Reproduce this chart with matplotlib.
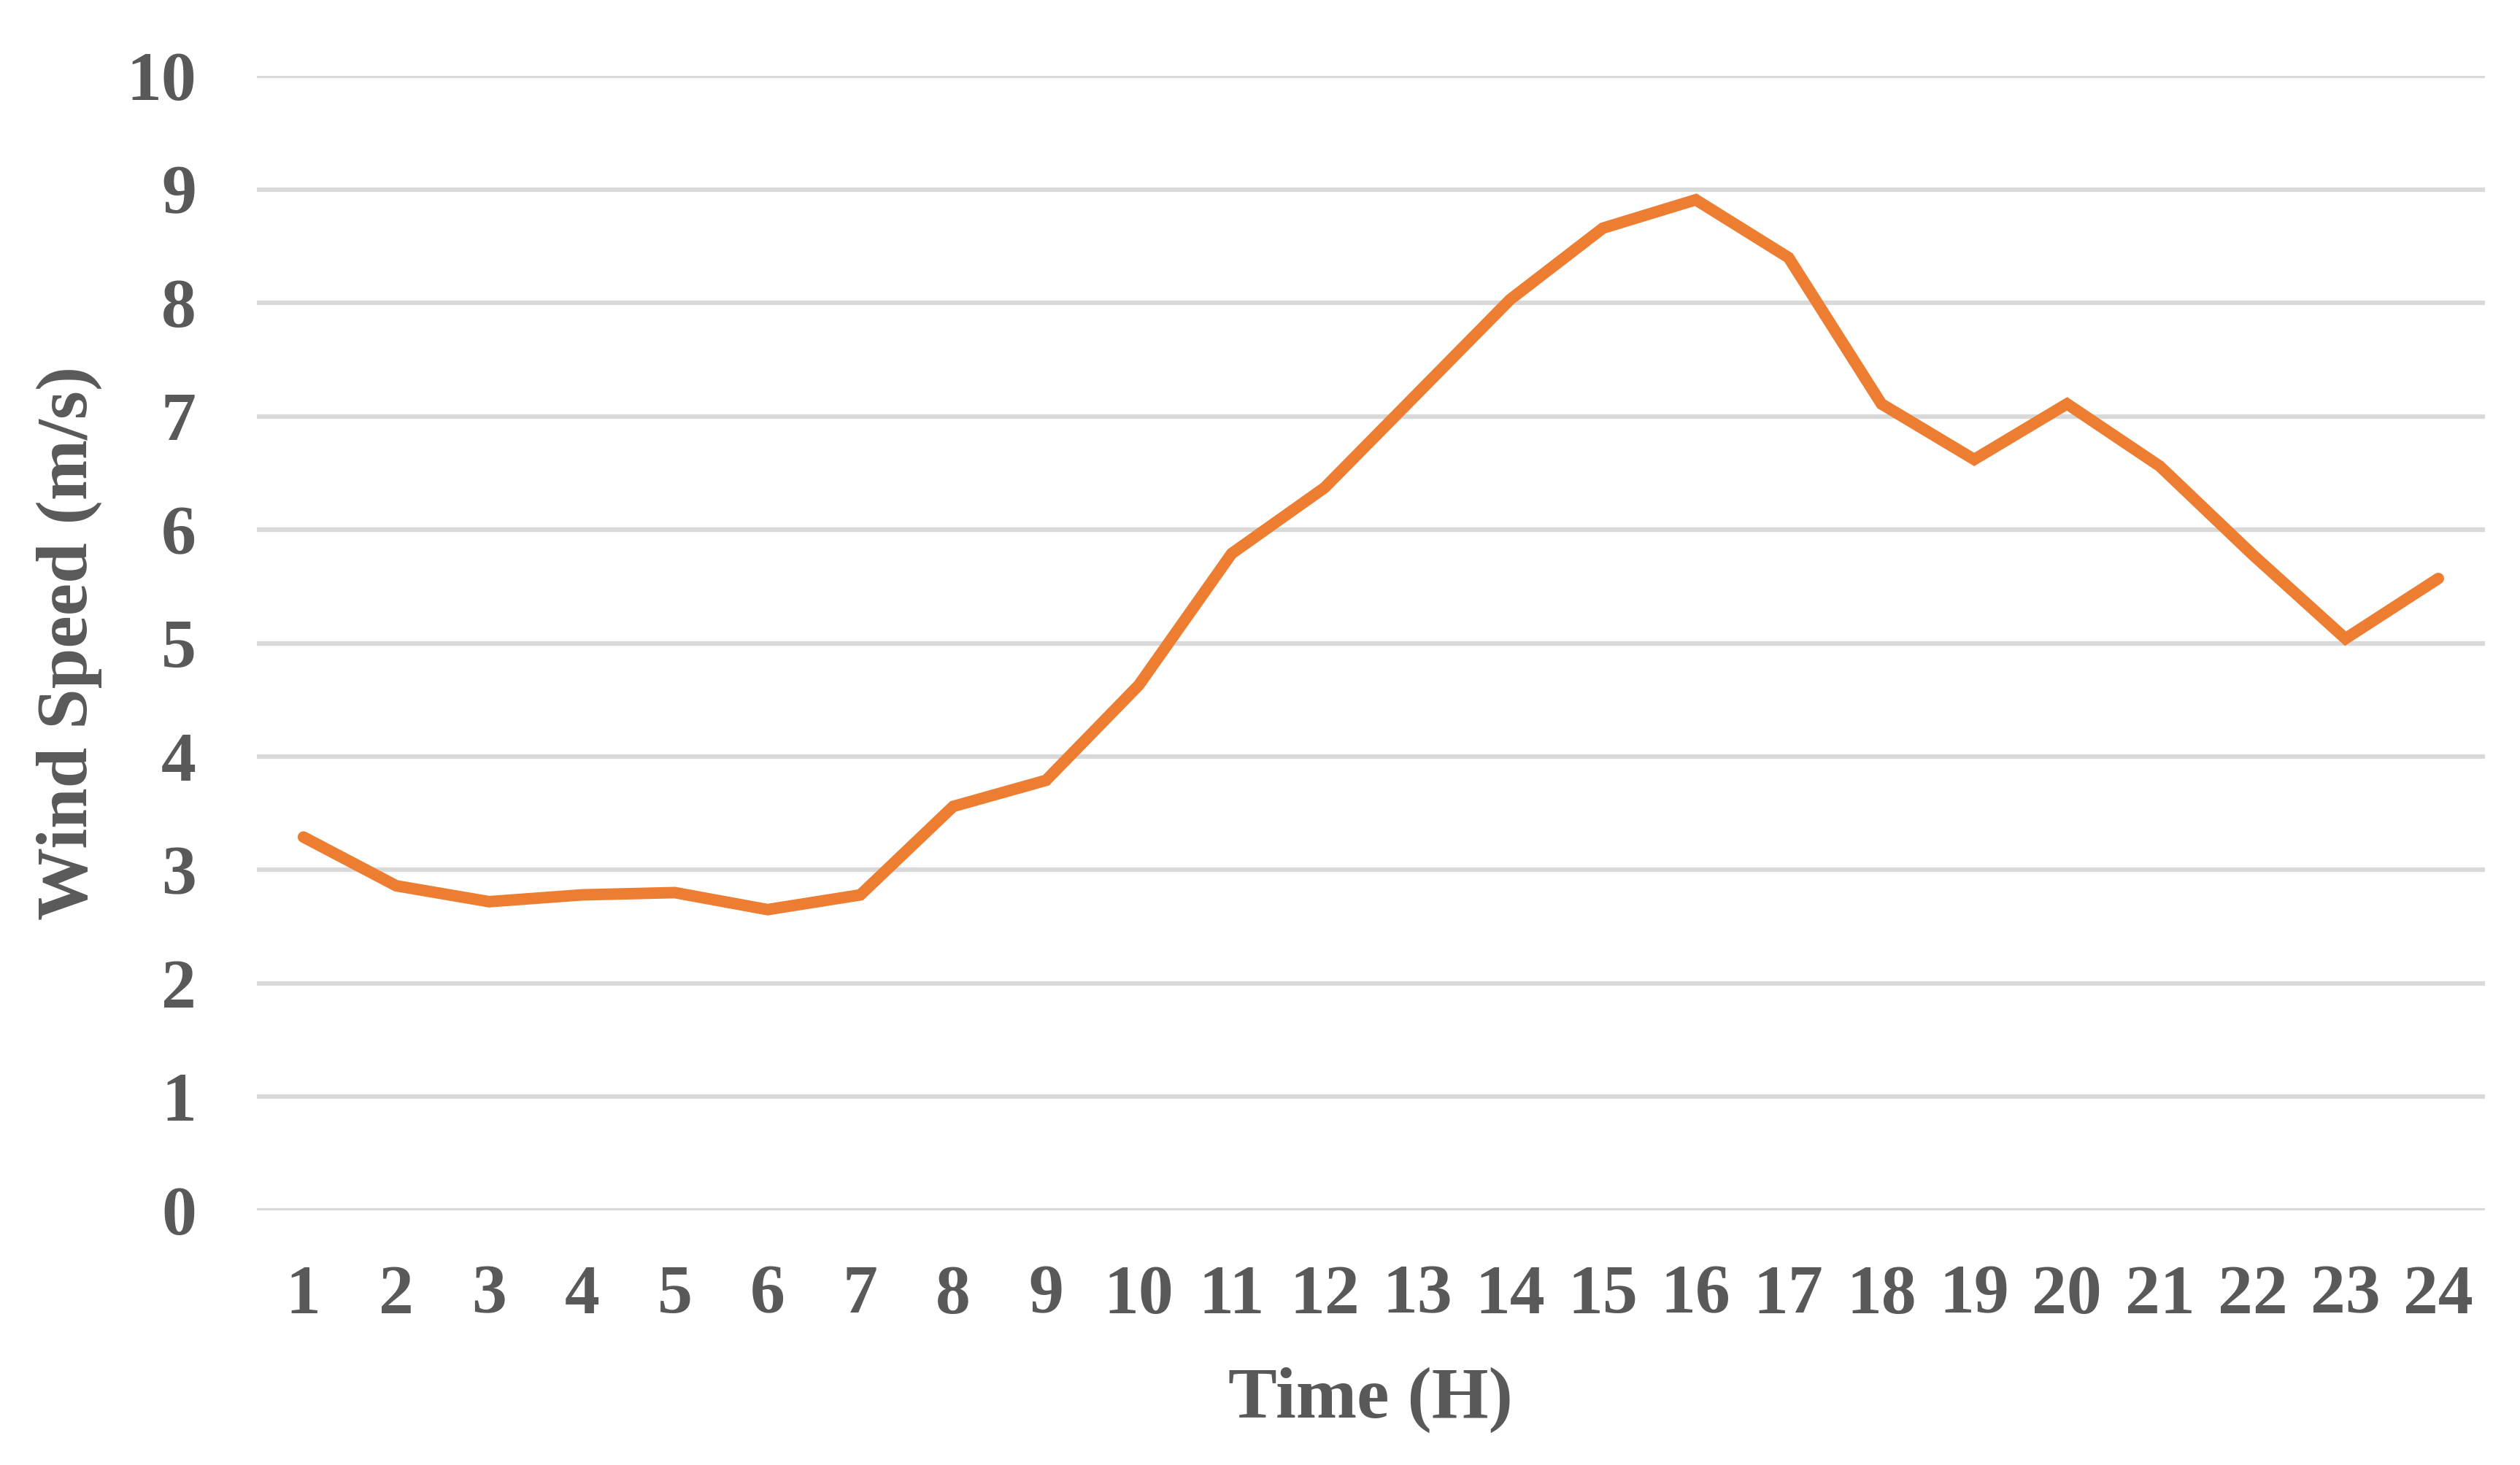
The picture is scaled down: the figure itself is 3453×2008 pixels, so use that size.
import matplotlib
matplotlib.use('Agg')
import matplotlib.pyplot as plt

# Hourly wind speed
hours = list(range(1, 25))
wind_speed = [3.29, 2.86, 2.72, 2.78, 2.80, 2.65, 2.78, 3.56, 3.79, 4.63, 5.79, 6.37,
              7.20, 8.03, 8.66, 8.91, 8.40, 7.11, 6.62, 7.11, 6.56, 5.78, 5.04, 5.57]
y_ticks = list(range(0, 11))

plt.rcParams['font.family'] = ['Liberation Serif', 'DejaVu Serif']
plt.rcParams['font.weight'] = 'bold'
text_color = '#595959'

fig = plt.figure(figsize=(3453 / 300, 2008 / 300), dpi=300)
ax = fig.add_axes([0.102, 0.174, 0.884, 0.774])

ax.plot(range(len(hours)), wind_speed, color='#ED7D31', linewidth=3.8,
        solid_joinstyle='miter', solid_capstyle='round', zorder=3)

ax.set_xlim(-0.5, len(hours) - 0.5)
ax.set_ylim(0, 10)
ax.set_yticks(y_ticks)
ax.set_xticks(range(len(hours)))
ax.set_xticklabels([str(h) for h in hours])
ax.yaxis.grid(True, color='#d9d9d9', linewidth=1.5)
ax.set_axisbelow(True)
for s in ax.spines.values():
    s.set_visible(False)
ax.tick_params(axis='both', length=0, labelsize=23, colors=text_color)
ax.tick_params(axis='x', pad=18)
ax.tick_params(axis='y', pad=20)
for lbl in ax.get_xticklabels() + ax.get_yticklabels():
    lbl.set_fontweight('bold')

ax.set_xlabel('Time (H)', fontsize=24, fontweight='bold', color=text_color, labelpad=13)
ax.set_ylabel('Wind Speed (m/s)', fontsize=24, fontweight='bold', color=text_color, labelpad=8)

fig.savefig('out.png', dpi=300)
